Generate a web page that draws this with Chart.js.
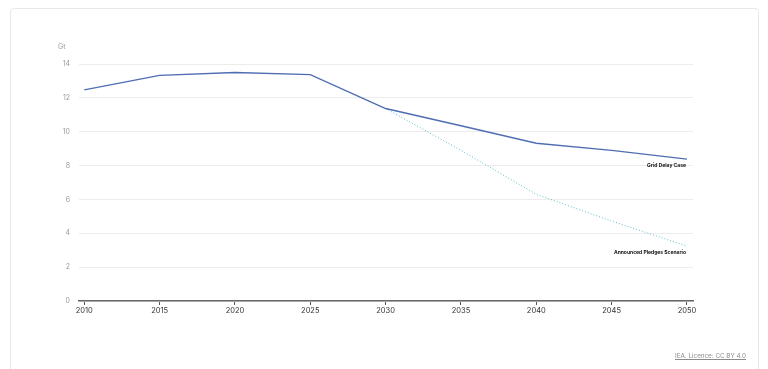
<!DOCTYPE html>
<html>
<head>
<meta charset="utf-8">
<script src="https://cdn.jsdelivr.net/npm/chart.js@4/dist/chart.umd.min.js"></script>
<style>
  html, body { margin: 0; padding: 0; background: #fff; }
  body { width: 768px; height: 369px; position: relative; overflow: hidden; font-family: Inter, "Noto Sans", sans-serif; }
  .card { position: absolute; left: 10px; top: 8px; width: 749px; height: 380px; border: 1px solid #e8e8e8; border-radius: 4px; box-sizing: border-box; }
  #wrap { position: absolute; left: 0; top: 0; width: 768px; height: 369px; }
  .unit { position: absolute; left: 58px; top: 42px; font-size: 7px; color: #9a9a9a; }
  .credit { position: absolute; right: 22px; top: 352px; font-size: 6.3px; color: #8a8a8a; text-decoration: underline; }
</style>
</head>
<body>
<div class="card"></div>
<div id="wrap"><canvas id="chart" width="768" height="369"></canvas></div>
<div class="unit">Gt</div>
<div class="credit">IEA. Licence: CC BY 4.0</div>
<script>
const years = [2010, 2015, 2020, 2025, 2030, 2035, 2040, 2045, 2050];
const gridDelay = [12.47, 13.33, 13.5, 13.37, 11.37, 10.35, 9.32, 8.9, 8.38];
const apsYears = [2030, 2035, 2040, 2045, 2050];
const announcedPledges = [11.37, 8.9, 6.3, 4.72, 3.24];
const xTicks = [2010, 2015, 2020, 2025, 2030, 2035, 2040, 2045, 2050];
const yTicks = [0, 2, 4, 6, 8, 10, 12, 14];
const seriesNames = ["Grid Delay Case", "Announced Pledges Scenario"];

// draws the series name just under the last point of each line
const endLabels = {
  id: "endLabels",
  afterDatasetsDraw(chart) {
    const ctx = chart.ctx;
    ctx.save();
    ctx.font = "bold 5px Inter, sans-serif";
    ctx.fillStyle = "#111";
    ctx.textAlign = "right";
    ctx.textBaseline = "middle";
    chart.data.datasets.forEach((ds, i) => {
      const meta = chart.getDatasetMeta(i);
      const last = meta.data[meta.data.length - 1];
      ctx.fillText(ds.label, last.x - 1, last.y + 6);
    });
    ctx.restore();
  },
};

const ctx = document.getElementById("chart").getContext("2d");
new Chart(ctx, {
  type: "line",
  data: {
    datasets: [
      {
        label: seriesNames[0],
        data: years.map((y, i) => ({ x: y, y: gridDelay[i] })),
        borderColor: "#4f6db3",
        borderWidth: 1.4,
        pointRadius: 0,
        fill: false,
        tension: 0,
      },
      {
        label: seriesNames[1],
        data: apsYears.map((y, i) => ({ x: y, y: announcedPledges[i] })),
        borderColor: "#5cbccb",
        borderWidth: 1,
        borderDash: [1, 2],
        pointRadius: 0,
        fill: false,
        tension: 0,
      },
    ],
  },
  options: {
    responsive: false,
    animation: false,
    layout: { padding: { left: 0, top: 64, right: 75, bottom: 48 } },
    plugins: { legend: { display: false }, tooltip: { enabled: false } },
    scales: {
      x: {
        type: "linear",
        min: 2009.65,
        max: 2050.4,
        afterBuildTicks: axis => { axis.ticks = xTicks.map(v => ({ value: v })); },
        afterFit: axis => { axis.height = 20; },
        ticks: { color: "#333", font: { size: 7.5, family: "Inter, sans-serif" }, padding: 1, maxRotation: 0, callback: v => String(v) },
        grid: { drawOnChartArea: false, drawTicks: true, tickLength: 4, tickColor: "#555", tickWidth: 1 },
        border: { color: "#666", width: 1.5 },
      },
      y: {
        min: 0,
        max: 14,
        afterBuildTicks: axis => { axis.ticks = yTicks.map(v => ({ value: v })); },
        afterFit: axis => { axis.width = 79; },
        ticks: { color: "#9a9a9a", font: { size: 7, family: "Inter, sans-serif" }, padding: 9 },
        grid: { color: "#ececec", lineWidth: 1, drawTicks: false },
        border: { display: false },
      },
    },
  },
  plugins: [endLabels],
});
</script>
</body>
</html>
